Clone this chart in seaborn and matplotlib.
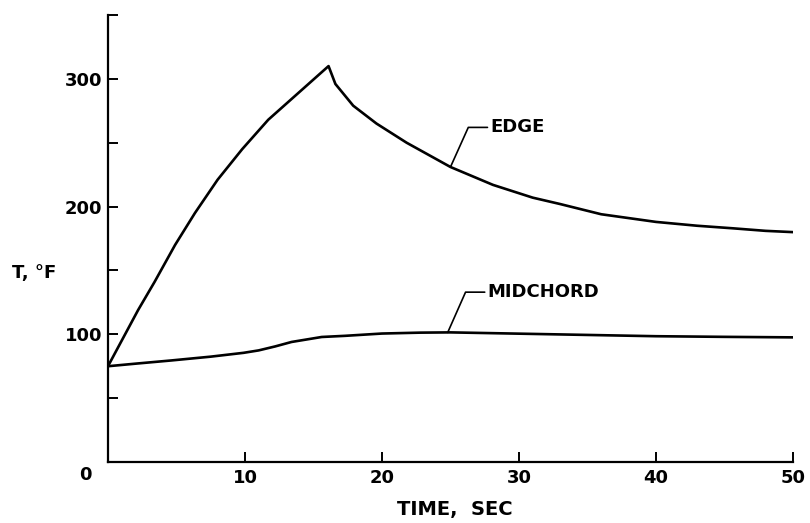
import numpy as np
import pandas as pd
import matplotlib
matplotlib.use("Agg")
import matplotlib.pyplot as plt
import seaborn as sns

# time (sec) and temperature (deg F)
edge_t = [0, 1.0, 2.2, 3.4, 4.9, 6.35, 8.0, 9.8, 11.7, 13.9, 16.1,
          16.6, 17.9, 19.6, 21.8, 25.0, 28.1, 31, 33, 36, 40, 43, 45.6, 48, 50]
edge_T = [75, 95, 119, 141, 170, 195, 221, 245, 268, 289, 310,
          296, 279, 265, 250, 231, 217, 207, 202, 194, 188, 185, 183, 181, 180]

mid_t = [0, 2, 4.6, 7.5, 9.9, 11.0, 12.2, 13.4, 15.6, 17.3, 20, 22.8, 25, 30, 35, 40, 45, 50]
mid_T = [75, 77, 79.5, 82.5, 85.5, 87.4, 90.5, 94, 97.9, 98.8, 100.6, 101.3, 101.5, 100.5, 99.5, 98.5, 98, 97.6]

xticks = [10, 20, 30, 40, 50]
yticks = [0, 50, 100, 150, 200, 250, 300, 350]
ylabels = ["", "", "100", "", "200", "", "300", ""]

edge = pd.DataFrame({"t": edge_t, "T": edge_T})
mid = pd.DataFrame({"t": mid_t, "T": mid_T})

sns.set_theme(style="ticks")
plt.rcParams["font.family"] = ["DejaVu Sans"]
plt.rcParams["font.weight"] = "bold"
plt.rcParams["text.color"] = "black"
plt.rcParams["axes.labelcolor"] = "black"

fig = plt.figure(figsize=(8.1, 5.23), dpi=100)
ax = fig.add_axes([0.1333, 0.1166, 0.8457, 0.8547])

sns.lineplot(data=edge, x="t", y="T", ax=ax, color="black", lw=1.9, sort=False, estimator=None)
sns.lineplot(data=mid, x="t", y="T", ax=ax, color="black", lw=1.9, sort=False, estimator=None)

ax.set_xlim(0, 50)
ax.set_ylim(0, 350)
ax.set_xticks(xticks)
ax.set_yticks(yticks)
ax.set_yticklabels(ylabels)
ax.tick_params(direction="in", length=7, width=1.4, labelsize=13, colors="black")
ax.tick_params(axis="x", pad=5)
ax.tick_params(axis="y", pad=4)
sns.despine(ax=ax)
for s in ("left", "bottom"):
    ax.spines[s].set_linewidth(1.6)
    ax.spines[s].set_color("black")

ax.annotate("0", xy=(0, 0), xytext=(-23, -13), textcoords="offset pixels",
            ha="center", va="center", fontsize=13, fontweight="bold", color="black")

ax.set_xlabel("TIME,  SEC", fontsize=14, fontweight="bold", va="center")
ax.xaxis.set_label_coords(0.507, -0.107)
ax.set_ylabel("T, °F", fontsize=13, fontweight="bold", rotation=0, ha="center", va="center")
ax.yaxis.set_label_coords(-0.108, 0.422)

# leader labels
for name, tt, TT, t0, ylab in [("EDGE", edge_t, edge_T, 25.0, 262),
                               ("MIDCHORD", mid_t, mid_T, 24.8, 133)]:
    y0 = np.interp(t0, tt, TT)
    ax.plot([t0, t0 + 1.3, t0 + 2.7], [y0, ylab, ylab], color="black", lw=1.2)
    ax.text(t0 + 2.9, ylab, name, ha="left", va="center", fontsize=13, fontweight="bold", color="black")

fig.savefig("out.png", dpi=100)
